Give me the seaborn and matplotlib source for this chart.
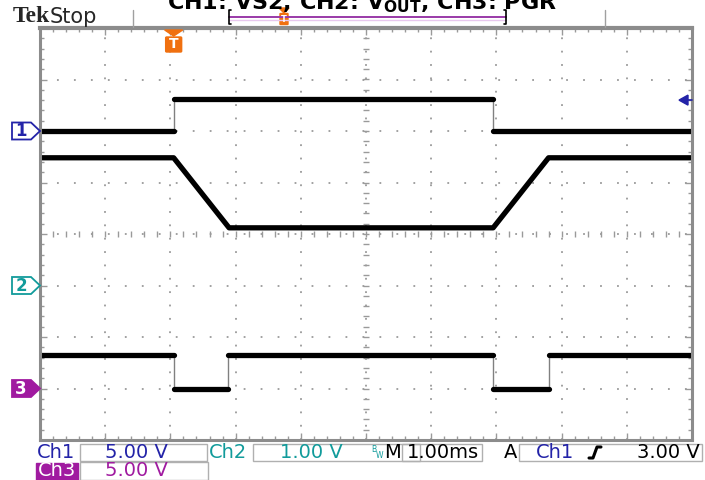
import numpy as np
import pandas as pd
import matplotlib
matplotlib.use("Agg")
import matplotlib.pyplot as plt
from matplotlib.patches import Polygon, Rectangle, FancyBboxPatch
import seaborn as sns

# scope settings (volts per division, ground offset in divisions)
ch_names = ["Ch1", "Ch2", "Ch3"]
volts_per_div = [5.0, 1.0, 5.0]
ground_div = [2.0, -1.0, -3.0]

# traces (time in ms, level in volts)
t_ch1 = [-5.0, -2.95, -2.95, 1.95, 1.95, 5.0]
v_ch1 = [0.0, 0.0, 3.1, 3.1, 0.0, 0.0]
t_ch2 = [-5.0, -2.95, -2.1, 1.95, 2.8, 5.0]
v_ch2 = [2.48, 2.48, 1.12, 1.12, 2.48, 2.48]
t_ch3 = [-5.0, -2.95, -2.95, -2.12, -2.12, 1.95, 1.95, 2.8, 2.8, 5.0]
v_ch3 = [3.25, 3.25, 0.0, 0.0, 3.25, 3.25, 0.0, 0.0, 3.25, 3.25]

title = "CH1: VS2, CH2: V$_\\mathregular{OUT}$, CH3: PGR"
status_row1 = ["5.00 V", "1.00 V", "1.00ms", "3.00 V"]
status_row2 = ["5.00 V"]
trig_time = -2.95
trig_level = 3.0

C1 = "#2323a8"
C2 = "#119b9b"
C3 = "#a01aa0"
ORANGE = "#f07010"
GRID = "#9a9a9a"

W, H = 705, 480
sns.set_style("white")
plt.rcParams["font.family"] = ["DejaVu Sans"]
fig = plt.figure(figsize=(W / 100, H / 100), dpi=100)
fig.patch.set_facecolor("white")

ax = fig.add_axes([40 / W, 40 / H, 652 / W, 412 / H])
ax.set_xlim(-5, 5)
ax.set_ylim(-4, 4)

# graticule
ax.set_xticks(np.arange(-5, 5.01, 1))
ax.set_yticks(np.arange(-4, 4.01, 1))
ax.set_xticks(np.arange(-5, 5.01, 0.2), minor=True)
ax.set_yticks(np.arange(-4, 4.01, 0.2), minor=True)
ax.tick_params(which="both", direction="in", top=True, right=True, left=True, bottom=True,
               labelbottom=False, labelleft=False, color=GRID)
ax.tick_params(which="major", length=5, width=1)
ax.tick_params(which="minor", length=3, width=1)
ax.xaxis.grid(True, color=GRID, lw=1.3, linestyle=(0, (1.0, 6.4)))
ax.yaxis.grid(True, color=GRID, lw=1.3, linestyle=(0, (1.0, 8.4)))
for s in ax.spines.values():
    s.set_color("#8c8c8c")
    s.set_linewidth(2.2)
ax.spines["top"].set_linewidth(3)
ax.plot(np.arange(-5, 5.01, 0.2), np.zeros(51), ls="none", marker="|", ms=5, color=GRID, mew=1)
ax.plot(np.zeros(41), np.arange(-4, 4.01, 0.2), ls="none", marker="_", ms=5, color=GRID, mew=1)

# traces
for i, (t, v) in enumerate([(t_ch1, v_ch1), (t_ch2, v_ch2), (t_ch3, v_ch3)]):
    y = np.array(v) / volts_per_div[i] + ground_div[i]
    df = pd.DataFrame({"t": t, "y": y})
    sns.lineplot(data=df, x="t", y="y", sort=False, estimator=None, color="#808080", lw=1, ax=ax)
    seg = np.concatenate([[0], np.cumsum(np.diff(t) == 0)])
    df["seg"] = seg
    sns.lineplot(data=df, x="t", y="y", units="seg", sort=False, estimator=None,
                 color="black", lw=3.8, ax=ax)
ax.set_xlabel("")
ax.set_ylabel("")

# overlay in pixel coordinates for the scope chrome
ov = fig.add_axes([0, 0, 1, 1])
ov.set_xlim(0, W)
ov.set_ylim(H, 0)
ov.axis("off")
ov.patch.set_alpha(0)


def px_x(t):
    return 40 + (t + 5) / 10 * 652


def px_y(d):
    return 234 - d * 51.5


ov.text(362, 3, title, ha="center", va="center", fontsize=16, fontweight="bold", color="black")

# header
ov.text(13, 17, "Tek", ha="left", va="center", fontsize=17, fontweight="bold",
        family=["Liberation Serif", "DejaVu Serif"])
ov.text(50, 17, "Stop", ha="left", va="center", fontsize=15)
for x in [133, 605]:
    ov.plot([x, x], [10, 27], color="#a0a0a0", lw=1)
ov.plot([229, 506], [17, 17], color="#9a3aa8", lw=1.4)
ov.plot([229, 506], [19.5, 19.5], color="#e8c8ee", lw=1)
ov.plot([231, 229, 229, 231], [10, 10, 24, 24], color="black", lw=1.2)
ov.plot([504, 506, 506, 504], [10, 10, 24, 24], color="black", lw=1.2)
ov.add_patch(Polygon([(279, 8), (289, 8), (284, 13)], closed=True, color=ORANGE))
ov.add_patch(FancyBboxPatch((280.5, 14), 7, 10, boxstyle="round,pad=0.5", color=ORANGE))
ov.text(284, 19.5, "T", ha="center", va="center", fontsize=6, color="white", fontweight="bold")

# trigger position marker
tx = px_x(trig_time)
ov.add_patch(Polygon([(tx - 9, 30), (tx + 9, 30), (tx, 36)], closed=True, color=ORANGE))
ov.add_patch(FancyBboxPatch((tx - 7, 38), 14, 13, boxstyle="round,pad=1", color=ORANGE))
ov.text(tx, 44.5, "T", ha="center", va="center", fontsize=10, color="white", fontweight="bold")

# trigger level arrow
ly = px_y(trig_level / volts_per_div[0] + ground_div[0])
ov.add_patch(Polygon([(679, ly), (688, ly - 5), (688, ly + 5)], closed=True, color=C1))
ov.plot([686, 692], [ly, ly], color=C1, lw=1.2)

# channel ground markers
for i, col in enumerate([C1, C2, C3]):
    gy = px_y(ground_div[i])
    pts = [(12, gy - 8.5), (31, gy - 8.5), (40, gy), (31, gy + 8.5), (12, gy + 8.5)]
    filled = i == 2
    ov.add_patch(Polygon(pts, closed=True, facecolor=col if filled else "white",
                         edgecolor=col, lw=1.3))
    ov.text(21, gy + 0.5, str(i + 1), ha="center", va="center", fontsize=12, fontweight="bold",
            color="white" if filled else col)

# status bar
box_kw = dict(fill=False, edgecolor="#b0b0b0", lw=1)
for x0, x1, y0, y1 in [(80, 207, 444, 461), (253, 420, 444, 461), (402, 482, 444, 461),
                       (519, 702, 444, 461), (80, 208, 462, 480)]:
    ov.add_patch(Rectangle((x0, y0), x1 - x0, y1 - y0, **box_kw))
fs = 14
ov.text(37, 452.5, ch_names[0], ha="left", va="center", fontsize=fs, color=C1)
ov.text(136, 452.5, status_row1[0], ha="center", va="center", fontsize=fs, color=C1)
ov.text(209, 452.5, ch_names[1], ha="left", va="center", fontsize=fs, color=C2)
ov.text(311, 452.5, status_row1[1], ha="center", va="center", fontsize=fs, color=C2)
ov.text(374, 449, "B", ha="center", va="center", fontsize=5.5, color=C2)
ov.text(379, 456, "W", ha="center", va="center", fontsize=5.5, color=C2)
ov.text(392, 452.5, "M", ha="center", va="center", fontsize=fs, color="black")
ov.text(443, 452.5, status_row1[2], ha="center", va="center", fontsize=fs, color="black")
ov.text(511, 452.5, "A", ha="center", va="center", fontsize=fs, color="black")
ov.text(555, 452.5, ch_names[0], ha="center", va="center", fontsize=fs, color=C1)
ov.plot([589, 593, 597, 601], [458, 458, 447, 447], color="black", lw=2.2)
ov.text(700, 452.5, status_row1[3], ha="right", va="center", fontsize=fs, color="black")
ov.add_patch(Rectangle((36, 463), 42, 17, color=C3))
ov.text(57, 471, ch_names[2], ha="center", va="center", fontsize=fs, color="white")
ov.text(136, 471, status_row2[0], ha="center", va="center", fontsize=fs, color=C3)

fig.savefig("out.png", dpi=100)
